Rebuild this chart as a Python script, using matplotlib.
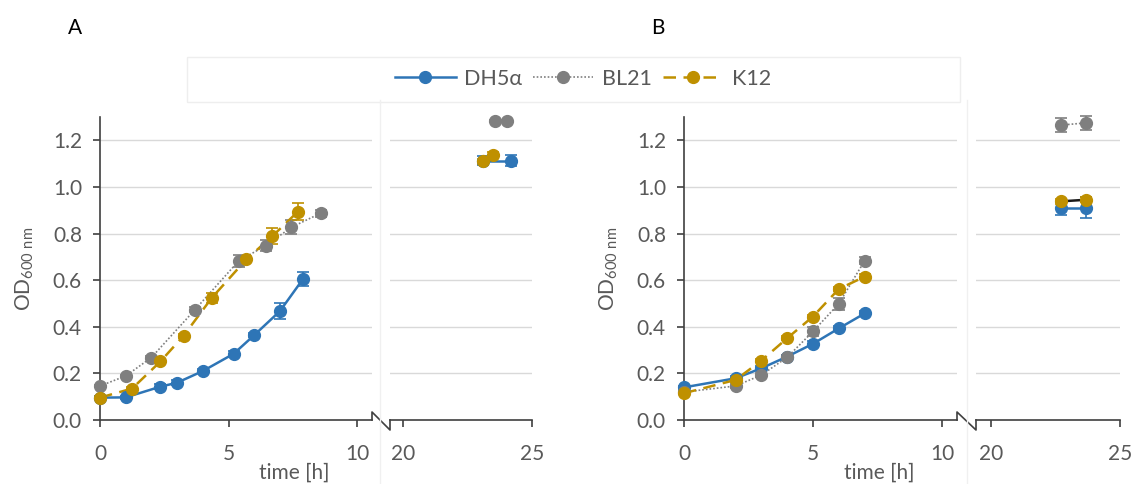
import matplotlib
matplotlib.use("Agg")
import matplotlib.pyplot as plt
from matplotlib.lines import Line2D
from matplotlib.patches import Rectangle

plt.rcParams['font.family'] = ['Lato', 'DejaVu Sans']
plt.rcParams['mathtext.fontset'] = 'custom'
plt.rcParams['mathtext.rm'] = 'Lato'

# ---------------- data ----------------
series_names = ["DH5α", "BL21", "K12"]

# Panel A, early phase
A_dh5a_t = [0, 1.0, 2.35, 3.0, 4.0, 5.2, 6.0, 7.0, 7.9]
A_dh5a_od = [0.096, 0.097, 0.143, 0.160, 0.210, 0.284, 0.364, 0.467, 0.605]
A_dh5a_err = [0.005, 0.008, 0.010, 0.010, 0.010, 0.012, 0.010, 0.035, 0.030]

A_bl21_t = [0, 1.0, 2.0, 3.7, 5.4, 6.45, 7.45, 8.6]
A_bl21_od = [0.146, 0.189, 0.268, 0.474, 0.683, 0.748, 0.827, 0.888]
A_bl21_err = [0.005, 0.005, 0.005, 0.010, 0.025, 0.025, 0.030, 0.015]

A_k12_t = [0, 1.25, 2.35, 3.25, 4.35, 5.7, 6.7, 7.7]
A_k12_od = [0.096, 0.135, 0.251, 0.361, 0.524, 0.690, 0.788, 0.894]
A_k12_err = [0.005, 0.008, 0.008, 0.008, 0.020, 0.010, 0.035, 0.035]

# Panel A, late phase
A_dh5a_late_t = [23.1, 24.2]
A_dh5a_late_od = [1.113, 1.113]
A_dh5a_late_err = [0.02, 0.025]
A_bl21_late_t = [23.55, 24.05]
A_bl21_late_od = [1.283, 1.283]
A_bl21_late_err = [0.005, 0.005]
A_k12_late_t = [23.1, 23.5]
A_k12_late_od = [1.110, 1.138]
A_k12_late_err = [0.01, 0.01]

# Panel B, early phase
B_t = [0, 2, 3, 4, 5, 6, 7]
B_dh5a_od = [0.140, 0.179, 0.222, 0.272, 0.327, 0.393, 0.457]
B_dh5a_err = [0.008, 0.008, 0.008, 0.008, 0.010, 0.010, 0.010]
B_bl21_od = [0.120, 0.146, 0.193, 0.269, 0.380, 0.499, 0.683]
B_bl21_err = [0.005, 0.008, 0.010, 0.010, 0.020, 0.025, 0.015]
B_k12_od = [0.115, 0.172, 0.255, 0.351, 0.444, 0.562, 0.615]
B_k12_err = [0.005, 0.008, 0.008, 0.008, 0.008, 0.010, 0.010]

# Panel B, late phase
B_late_t = [22.7, 23.7]
B_dh5a_late_od = [0.910, 0.910]
B_dh5a_late_err = [0.030, 0.045]
B_bl21_late_od = [1.265, 1.275]
B_bl21_late_err = [0.030, 0.030]
B_k12_late_od = [0.938, 0.945]
B_k12_late_err = [0.010, 0.010]

y_ticks = [0.0, 0.2, 0.4, 0.6, 0.8, 1.0, 1.2]

# ---------------- style ----------------
C_BLUE = "#2E75B6"
C_GRAY = "#7F7F7F"
C_GOLD = "#BF9000"
TXT = "#595959"
AXC = "#404040"
GRID = "#D9D9D9"

styles = {
    "DH5α": dict(color=C_BLUE, ls="-", lw=1.8),
    "BL21": dict(color=C_GRAY, ls=(0, (1, 1.2)), lw=1.2),
    "K12": dict(color=C_GOLD, ls=(0, (5, 3)), lw=1.8),
}

W, H = 1133, 484
fig = plt.figure(figsize=(W / 100, H / 100), dpi=100)

def fx(px):
    return px / W

def fy(py):
    return 1 - py / H

bottom = fy(420)
height = fy(117) - bottom


def draw(ax, t, od, err, name, color_override=None, ls_override=None):
    st = dict(styles[name])
    c = st["color"]
    lc = color_override if color_override else c
    ls = ls_override if ls_override else st["ls"]
    ax.errorbar(t, od, yerr=err, color=c, ecolor=c, elinewidth=1.2, capsize=4,
                capthick=1.2, fmt="none", zorder=3, clip_on=False)
    ax.plot(t, od, color=lc, ls=ls, lw=st["lw"], zorder=4, clip_on=False)
    ax.plot(t, od, color=c, ls="none", marker="o", markersize=8.5, zorder=5,
            clip_on=False)


def style_left(ax, xmax):
    ax.set_xlim(0, xmax)
    ax.set_ylim(0, 1.3)
    ax.set_yticks(y_ticks)
    ax.set_yticklabels([f"{v:.1f}" for v in y_ticks])
    ax.set_xticks([0, 5, 10])
    for s in ["top", "right"]:
        ax.spines[s].set_visible(False)
    for s in ["left", "bottom"]:
        ax.spines[s].set_color(AXC)
        ax.spines[s].set_linewidth(1.2)
    ax.tick_params(axis="both", colors=AXC, labelcolor=TXT, labelsize=15,
                   length=5, width=1.2, direction="out")
    ax.tick_params(axis="y", pad=8)
    ax.tick_params(axis="x", pad=12)
    for v in y_ticks[1:]:
        ax.axhline(v, color=GRID, lw=1.0, zorder=0)
    ax.set_ylabel(r"OD$_{\mathregular{600\ nm}}$", fontsize=15, color=TXT,
                  labelpad=12)
    ax.set_xlabel("time [h]", fontsize=15, color=TXT, labelpad=0, va="center")
    ax.xaxis.set_label_coords(0.715, -0.175)


def style_right(ax, xmin):
    ax.set_xlim(xmin, 25)
    ax.set_ylim(0, 1.3)
    ax.set_yticks([])
    ax.set_xticks([20, 25])
    for s in ["top", "right", "left"]:
        ax.spines[s].set_visible(False)
    ax.spines["bottom"].set_color(AXC)
    ax.spines["bottom"].set_linewidth(1.2)
    ax.tick_params(axis="x", colors=AXC, labelcolor=TXT, labelsize=15,
                   length=5, width=1.2, direction="out", pad=12)
    for v in y_ticks[1:]:
        ax.axhline(v, color=GRID, lw=1.0, zorder=0)


def zigzag(x1, x2):
    pts_x = [x1, x1, x2, x2]
    pts_y = [420, 412, 430, 420]
    fig.add_artist(Line2D([fx(p) for p in pts_x], [fy(p) for p in pts_y],
                          color=AXC, lw=1.2, transform=fig.transFigure))


def faint_vline(px):
    fig.add_artist(Line2D([fx(px), fx(px)], [fy(100), fy(484)],
                          color="#F0F0F0", lw=1.0, transform=fig.transFigure))

# ---------------- panel A ----------------
axA1 = fig.add_axes([fx(100), bottom, fx(372 - 100), height])
axA2 = fig.add_axes([fx(390), bottom, fx(532 - 390), height])
style_left(axA1, (372 - 100) / 25.7)
style_right(axA2, 20 - 13 / 25.8)

draw(axA1, A_dh5a_t, A_dh5a_od, A_dh5a_err, "DH5α")
draw(axA1, A_bl21_t, A_bl21_od, A_bl21_err, "BL21")
draw(axA1, A_k12_t, A_k12_od, A_k12_err, "K12")
draw(axA2, A_dh5a_late_t, A_dh5a_late_od, A_dh5a_late_err, "DH5α")
draw(axA2, A_bl21_late_t, A_bl21_late_od, A_bl21_late_err, "BL21")
draw(axA2, A_k12_late_t, A_k12_late_od, A_k12_late_err, "K12")
zigzag(372, 390)
faint_vline(380)

# ---------------- panel B ----------------
axB1 = fig.add_axes([fx(684), bottom, fx(957 - 684), height])
axB2 = fig.add_axes([fx(976), bottom, fx(1120 - 976), height])
style_left(axB1, (957 - 684) / 25.8)
style_right(axB2, 25 - (1120 - 976) / 25.8)

draw(axB1, B_t, B_dh5a_od, B_dh5a_err, "DH5α")
draw(axB1, B_t, B_bl21_od, B_bl21_err, "BL21")
draw(axB1, B_t, B_k12_od, B_k12_err, "K12")
draw(axB2, B_late_t, B_dh5a_late_od, B_dh5a_late_err, "DH5α")
draw(axB2, B_late_t, B_bl21_late_od, B_bl21_late_err, "BL21")
draw(axB2, B_late_t, B_k12_late_od, B_k12_late_err, "K12",
     color_override="#1A1A1A", ls_override="-")
zigzag(957, 976)
faint_vline(967)

# ---------------- panel letters ----------------
fig.text(fx(75), fy(28), "A", fontsize=15, color="black", ha="center", va="center")
fig.text(fx(658), fy(28), "B", fontsize=15, color="black", ha="center", va="center")

# ---------------- legend ----------------
fig.add_artist(Rectangle((fx(187), fy(102)), fx(960 - 187), fy(57) - fy(102),
                         transform=fig.transFigure, fill=False,
                         edgecolor="#EEEEEE", lw=1.0))
handles = []
for n in series_names:
    st = styles[n]
    handles.append(Line2D([], [], color=st["color"], ls=st["ls"], lw=st["lw"],
                          marker="o", markersize=8.5))
leg = fig.legend(handles, series_names, loc="center", ncol=3,
                 bbox_to_anchor=(fx(583), fy(79)), frameon=False, fontsize=15.5,
                 handlelength=2.8, handletextpad=0.4, columnspacing=0.5)
for t in leg.get_texts():
    t.set_color(TXT)

fig.savefig("out.png", dpi=100, facecolor="white")
